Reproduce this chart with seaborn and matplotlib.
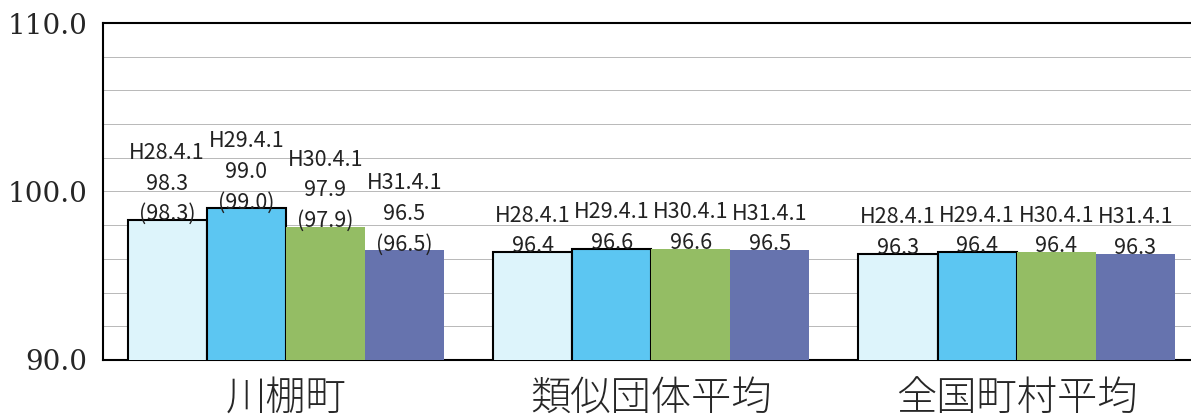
import pandas as pd
import numpy as np
import seaborn as sns
import matplotlib.pyplot as plt

groups = ['川棚町', '類似団体平均', '全国町村平均']
dates = ['H28.4.1', 'H29.4.1', 'H30.4.1', 'H31.4.1']
kawatana = [98.3, 99.0, 97.9, 96.5]
ruiji = [96.4, 96.6, 96.6, 96.5]
zenkoku = [96.3, 96.4, 96.4, 96.3]
colors = ['#DDF4FB', '#5CC6F2', '#94BD64', '#6673AE']

rows = []
for g, vals in zip(groups, [kawatana, ruiji, zenkoku]):
    for d, v in zip(dates, vals):
        rows.append({'group': g, 'date': d, 'value': v})
df = pd.DataFrame(rows)

sns.set_style('white')
plt.rcParams['font.family'] = ['Noto Sans CJK JP', 'DejaVu Sans']

fig = plt.figure(figsize=(11.91, 4.19), dpi=100)
ax = fig.add_axes([0.0865, 0.141, 0.9135, 0.804])

sns.barplot(data=df, x='group', y='value', hue='date', palette=colors,
            width=0.866, gap=0, legend=False, ax=ax, saturation=1)

# first two series have a black outline, the others none
for i, cont in enumerate(ax.containers):
    for p in cont:
        if i < 2:
            p.set_edgecolor('black')
            p.set_linewidth(1.5)
        else:
            p.set_linewidth(0)
        p.set_zorder(3)

# data labels
for i, cont in enumerate(ax.containers):
    for j, p in enumerate(cont):
        v = p.get_height()
        if j == 0:
            txt = f'{dates[i]}\n{v:.1f}\n({v:.1f})'
        else:
            txt = f'{dates[i]}\n{v:.1f}'
        ax.text(p.get_x() + p.get_width() / 2, v - 0.3, txt,
                ha='center', va='bottom', fontsize=15.5, linespacing=1.5,
                color='#222222', zorder=4)

ax.set_ylim(90, 110)
ax.set_xlim(-0.5, 2.477)
ax.set_yticks([90, 100, 110])
ax.set_yticks(np.arange(92, 110, 2), minor=True)
ax.set_yticklabels(['90.0', '100.0', '110.0'], family='DejaVu Serif', fontsize=20)
ax.grid(axis='y', which='both', color='#b8b8b8', linewidth=0.7, zorder=0)
ax.set_axisbelow(True)
ax.tick_params(axis='y', which='both', length=0, pad=11)
ax.tick_params(axis='x', length=0, pad=13)
for lbl in ax.get_xticklabels():
    lbl.set_fontsize(29)
    lbl.set_fontweight('light')
ax.set_xlabel('')
ax.set_ylabel('')

for s in ['top', 'left', 'bottom']:
    ax.spines[s].set_color('black')
    ax.spines[s].set_linewidth(1.5)
ax.spines['right'].set_visible(False)

plt.savefig('out.png', dpi=100)
